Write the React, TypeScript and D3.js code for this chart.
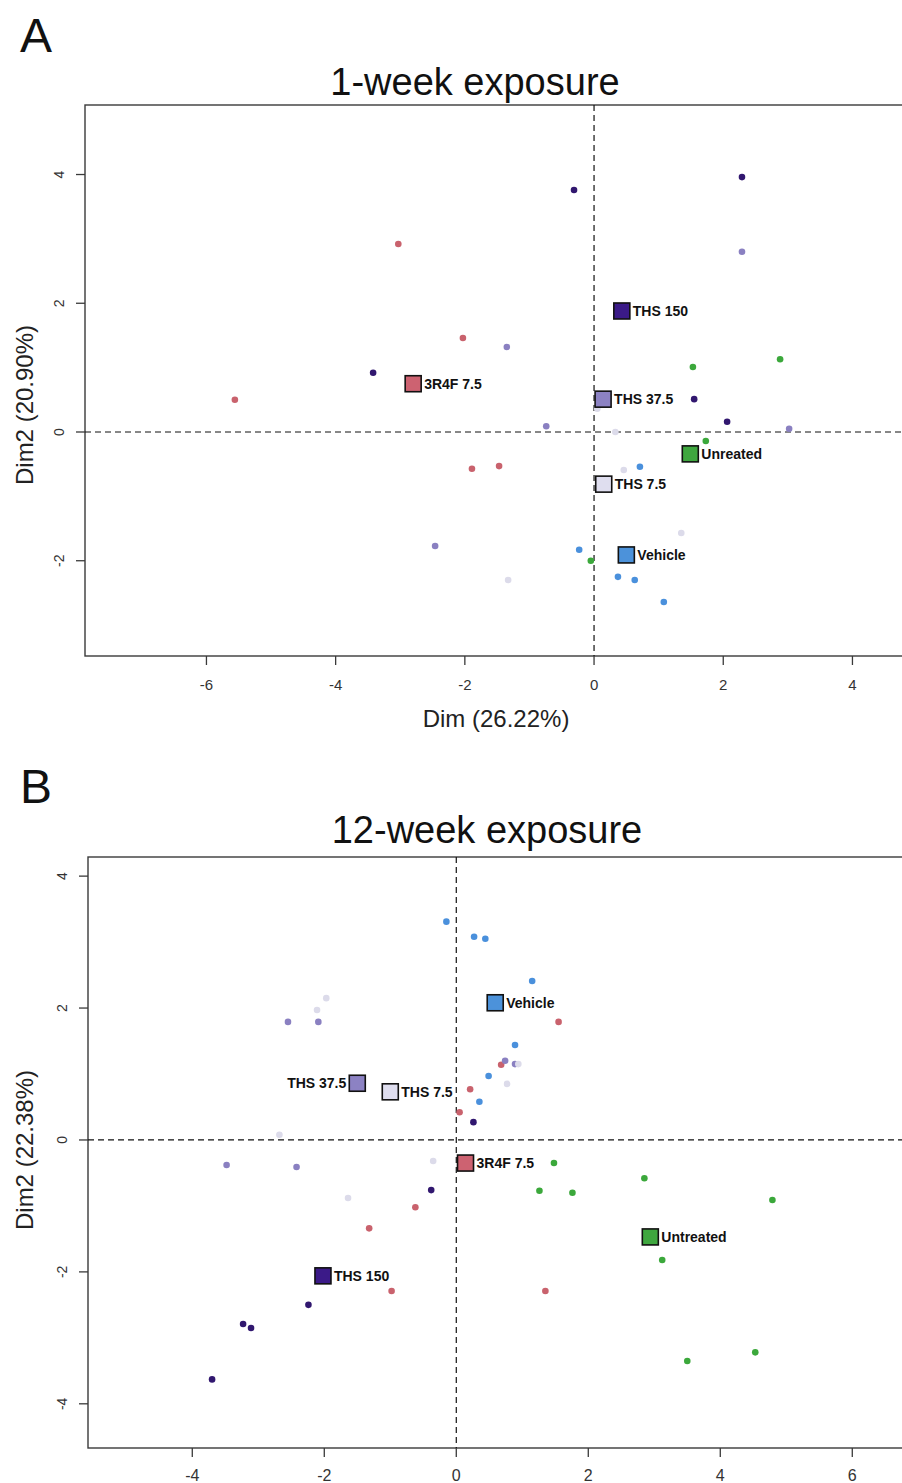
import React from "react";
import * as d3 from "d3";

// ---------- data ----------
const groupNames = ["3R4F 7.5", "THS 150", "THS 37.5", "THS 7.5", "Vehicle", "Untreated"];
const pointColors = ["#c9626d", "#31176f", "#8a80c1", "#dcdbea", "#4a90dc", "#3ba83b"];
const squareColors = ["#cd6271", "#3b1a88", "#8c82c3", "#dfdeef", "#4c92da", "#3fa73f"];

// 1-week exposure individual points per group
const w1_3R4F = [[-3.03, 2.92], [-2.03, 1.46], [-5.56, 0.5], [-1.89, -0.57], [-1.47, -0.53]];
const w1_THS150 = [[-0.31, 3.76], [2.29, 3.96], [-3.42, 0.92], [1.55, 0.51], [2.06, 0.16]];
const w1_THS375 = [[2.29, 2.8], [-1.35, 1.32], [-0.74, 0.09], [3.02, 0.05], [-2.46, -1.77]];
const w1_THS75 = [[0.05, 0.36], [0.33, 0.0], [0.46, -0.59], [1.35, -1.57], [-1.33, -2.3]];
const w1_Vehicle = [[0.71, -0.54], [-0.23, -1.83], [0.37, -2.25], [0.63, -2.3], [1.08, -2.64]];
const w1_Untreated = [[1.53, 1.01], [2.88, 1.13], [1.73, -0.14], [-0.05, -2.0]];
const w1Means = [[-2.8, 0.75], [0.43, 1.88], [0.14, 0.51], [0.15, -0.81], [0.5, -1.91], [1.49, -0.34]];
const w1Labels = ["3R4F 7.5", "THS 150", "THS 37.5", "THS 7.5", "Vehicle", "Unreated"];

// 12-week exposure
const w12_3R4F = [[1.55, 1.79], [0.68, 1.14], [0.21, 0.77], [0.05, 0.42], [-0.62, -1.02], [-1.32, -1.34], [-0.98, -2.29], [1.35, -2.29]];
const w12_THS150 = [[0.26, 0.27], [-0.38, -0.76], [-2.24, -2.5], [-3.23, -2.79], [-3.11, -2.85], [-3.7, -3.63]];
const w12_THS375 = [[-2.55, 1.79], [-2.09, 1.79], [0.74, 1.2], [0.89, 1.15], [-3.48, -0.38], [-2.42, -0.41]];
const w12_THS75 = [[-2.11, 1.97], [-1.97, 2.15], [-2.68, 0.08], [0.94, 1.15], [0.77, 0.85], [-0.35, -0.32], [-1.64, -0.88]];
const w12_Vehicle = [[-0.15, 3.31], [0.27, 3.08], [0.44, 3.05], [1.15, 2.41], [0.89, 1.44], [0.49, 0.97], [0.35, 0.58]];
const w12_Untreated = [[1.48, -0.35], [1.26, -0.77], [1.76, -0.8], [2.85, -0.58], [4.79, -0.91], [3.12, -1.82], [3.5, -3.35], [4.53, -3.22]];
const w12Means = [[0.14, -0.35], [-2.02, -2.06], [-1.5, 0.86], [-1.0, 0.73], [0.59, 2.08], [2.94, -1.47]];
const w12Labels = ["3R4F 7.5", "THS 150", "THS 37.5", "THS 7.5", "Vehicle", "Untreated"];
const w12LabelLeft = [false, false, true, false, false, false];

const w1XTicks = [-6, -4, -2, 0, 2, 4];
const w1YTicks = [-2, 0, 2, 4];
const w12XTicks = [-4, -2, 0, 2, 4, 6];
const w12YTicks = [-4, -2, 0, 2, 4];

const FONT = "'Liberation Sans', Arial, Helvetica, sans-serif";

type Pt = number[];

interface PanelProps {
  letter: string;
  letterY: number;
  title: string;
  titleX: number;
  titleY: number;
  xDomain: [number, number];
  xRange: [number, number];
  yDomain: [number, number];
  yRange: [number, number];
  xTicks: number[];
  yTicks: number[];
  xTickY: number;
  xTickSize: number;
  points: Pt[][];
  means: Pt[];
  labels: string[];
  labelLeft: boolean[];
  xLabel?: string;
  xLabelY?: number;
  yLabel: string;
  yLabelY: number;
}

function Panel(p: PanelProps) {
  const x = d3.scaleLinear().domain(p.xDomain).range(p.xRange);
  const y = d3.scaleLinear().domain(p.yDomain).range(p.yRange);
  const left = p.xRange[0];
  const right = p.xRange[1];
  const top = p.yRange[1];
  const bottom = p.yRange[0];
  const sq = 16;
  return (
    <g>
      <text x={20} y={p.letterY} fontFamily={FONT} fontSize={48} fill="#111">{p.letter}</text>
      <text x={p.titleX} y={p.titleY} fontFamily={FONT} fontSize={38} textAnchor="middle" fill="#111">{p.title}</text>
      {/* frame */}
      <rect x={left} y={top} width={right - left} height={bottom - top} fill="none" stroke="#3a3a3a" strokeWidth={1.4} />
      {/* dashed zero lines */}
      <line x1={left} x2={right} y1={y(0)} y2={y(0)} stroke="#111" strokeWidth={1.2} strokeDasharray="6,4" />
      <line x1={x(0)} x2={x(0)} y1={top} y2={bottom} stroke="#111" strokeWidth={1.2} strokeDasharray="6,4" />
      {/* x ticks */}
      {p.xTicks.map((t) => (
        <g key={"xt" + t}>
          <line x1={x(t)} x2={x(t)} y1={bottom} y2={bottom + 9} stroke="#3a3a3a" strokeWidth={1.3} />
          <text x={x(t)} y={p.xTickY} fontFamily={FONT} fontSize={p.xTickSize} textAnchor="middle" fill="#333">{t}</text>
        </g>
      ))}
      {/* y ticks */}
      {p.yTicks.map((t) => (
        <g key={"yt" + t}>
          <line x1={left - 9} x2={left} y1={y(t)} y2={y(t)} stroke="#3a3a3a" strokeWidth={1.3} />
          <text x={left - 21} y={y(t)} fontFamily={FONT} fontSize={14} textAnchor="middle" fill="#333"
            transform={`rotate(-90, ${left - 21}, ${y(t)})`}>{t}</text>
        </g>
      ))}
      {/* axis labels */}
      {p.xLabel && (
        <text x={x(0) - 98} y={p.xLabelY} fontFamily={FONT} fontSize={24} textAnchor="middle" fill="#222">{p.xLabel}</text>
      )}
      <text x={33} y={p.yLabelY} fontFamily={FONT} fontSize={24} textAnchor="middle" fill="#222"
        transform={`rotate(-90, 33, ${p.yLabelY})`}>{p.yLabel}</text>
      {/* points */}
      {p.points.map((grp, gi) =>
        grp.map((d, i) => (
          <circle key={`p${gi}-${i}`} cx={x(d[0])} cy={y(d[1])} r={3.3} fill={pointColors[gi]} />
        ))
      )}
      {/* group barycentres */}
      {p.means.map((d, gi) => {
        const cx = x(d[0]);
        const cy = y(d[1]);
        const leftSide = p.labelLeft[gi];
        return (
          <g key={"m" + gi}>
            <rect x={cx - sq / 2} y={cy - sq / 2} width={sq} height={sq} fill={squareColors[gi]} stroke="#111" strokeWidth={1.6} />
            <text x={leftSide ? cx - sq / 2 - 3 : cx + sq / 2 + 3} y={cy} dy="0.36em"
              fontFamily={FONT} fontSize={14} fontWeight="bold" fill="#111"
              textAnchor={leftSide ? "end" : "start"}>{p.labels[gi]}</text>
          </g>
        );
      })}
    </g>
  );
}

export default function App() {
  const w1Points = [w1_3R4F, w1_THS150, w1_THS375, w1_THS75, w1_Vehicle, w1_Untreated];
  const w12Points = [w12_3R4F, w12_THS150, w12_THS375, w12_THS75, w12_Vehicle, w12_Untreated];
  return (
    <svg width={902} height={1483} style={{ position: "absolute", left: 0, top: 0, background: "#fff" }}>
      <rect x={0} y={0} width={902} height={1483} fill="#fff" />
      <Panel
        letter="A" letterY={52} title="1-week exposure" titleX={475} titleY={95}
        xDomain={[-7.88, 5.3]} xRange={[85, 85 + 13.18 * 64.6]}
        yDomain={[-3.48, 5.08]} yRange={[656, 105]}
        xTicks={w1XTicks} yTicks={w1YTicks} xTickY={690} xTickSize={15}
        points={w1Points} means={w1Means} labels={w1Labels} labelLeft={[false, false, false, false, false, false]}
        xLabel="Dim (26.22%)" xLabelY={727} yLabel="Dim2 (20.90%)" yLabelY={405}
      />
      <Panel
        letter="B" letterY={803} title="12-week exposure" titleX={487} titleY={843}
        xDomain={[-5.58, 7.3]} xRange={[88, 88 + 12.88 * 66]}
        yDomain={[-4.67, 4.29]} yRange={[1448, 857]}
        xTicks={w12XTicks} yTicks={w12YTicks} xTickY={1481} xTickSize={16}
        points={w12Points} means={w12Means} labels={w12Labels} labelLeft={w12LabelLeft}
        yLabel="Dim2 (22.38%)" yLabelY={1150}
      />
    </svg>
  );
}
